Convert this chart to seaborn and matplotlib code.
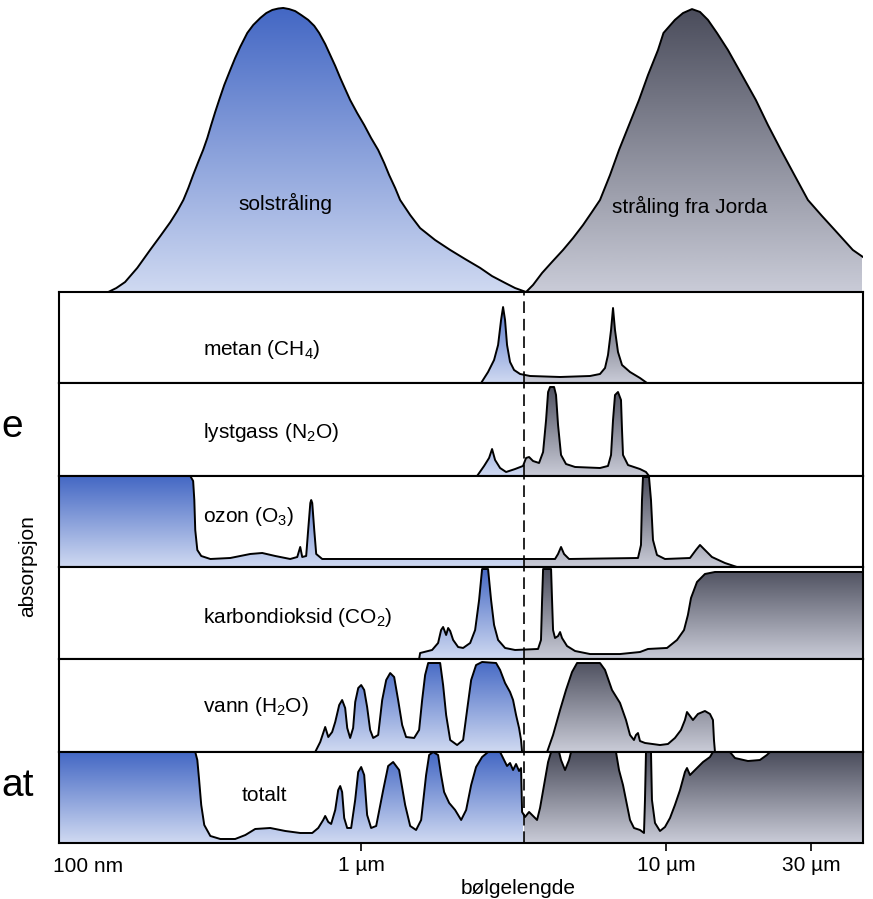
import numpy as np
import matplotlib
matplotlib.use("Agg")
import matplotlib.pyplot as plt
from matplotlib.colors import LinearSegmentedColormap
from matplotlib.ticker import NullLocator
import seaborn as sns

sns.set_theme(style="white")
plt.rcParams["font.family"] = ["Liberation Sans", "DejaVu Sans"]
plt.rcParams["mathtext.fontset"] = "custom"
plt.rcParams["mathtext.rm"] = "Liberation Sans"
plt.rcParams["mathtext.default"] = "regular"
plt.rcParams["axes.edgecolor"] = "black"
plt.rcParams["text.color"] = "black"
plt.rcParams["xtick.color"] = "black"

# ---- data (bølgelengde i µm, nivå / absorpsjon 0..1) ----
solar_wl = [0.148, 0.1573, 0.168, 0.1843, 0.203, 0.2193, 0.2365, 0.2493, 0.261, 0.2709,
            0.281, 0.2921, 0.303, 0.3127, 0.322, 0.332, 0.342, 0.3555, 0.372, 0.386,
            0.401, 0.423, 0.4424, 0.467, 0.4882, 0.511, 0.5344, 0.555, 0.5805, 0.6075,
            0.636, 0.670, 0.7014, 0.728, 0.762, 0.791, 0.822, 0.8535, 0.886, 0.920,
            0.9703, 1.023, 1.078, 1.137, 1.190, 1.235, 1.293, 1.342, 1.448, 1.561,
            1.748, 1.959, 2.193, 2.455, 2.688, 2.965, 3.198, 3.475]
solar_level = [0, 0.014, 0.035, 0.085, 0.148, 0.197, 0.246, 0.285, 0.324, 0.366,
               0.412, 0.458, 0.5, 0.542, 0.588, 0.634, 0.676, 0.729, 0.782, 0.824,
               0.863, 0.912, 0.940, 0.965, 0.982, 0.993, 0.998, 1.0, 0.996, 0.989,
               0.975, 0.958, 0.937, 0.912, 0.873, 0.835, 0.796, 0.754, 0.715, 0.676,
               0.630, 0.588, 0.542, 0.5, 0.454, 0.412, 0.366, 0.324, 0.271, 0.225,
               0.183, 0.148, 0.116, 0.085, 0.056, 0.032, 0.014, 0]

earth_wl = [3.475, 3.664, 3.922, 4.229, 4.595, 4.956, 5.345, 5.719, 6.075, 6.553,
            7.013, 7.563, 8.157, 8.730, 9.415, 9.813, 10.70, 11.37, 12.17, 12.93,
            13.73, 14.70, 15.97, 17.75, 19.72, 21.60, 23.83, 26.38, 29.22, 32.47,
            35.81, 41.02, 46.7]
earth_level = [0, 0.025, 0.067, 0.106, 0.148, 0.190, 0.236, 0.282, 0.324, 0.412,
               0.5, 0.588, 0.676, 0.764, 0.852, 0.912, 0.958, 0.982, 0.996, 0.986,
               0.958, 0.912, 0.852, 0.764, 0.676, 0.588, 0.5, 0.412, 0.324, 0.268,
               0.218, 0.148, 0.106]

ch4_wl = [2.474, 2.608, 2.729, 2.813, 2.877, 2.921, 2.965, 3.010, 3.079, 3.174,
          3.321, 3.581, 4.493, 5.635, 6.075, 6.310, 6.453, 6.603, 6.703, 6.804,
          6.959, 7.174, 7.621, 8.217, 8.664]
ch4_abs = [0, 0.121, 0.253, 0.418, 0.692, 0.835, 0.692, 0.418, 0.231, 0.143,
           0.099, 0.077, 0.066, 0.077, 0.099, 0.165, 0.308, 0.582, 0.824, 0.582,
           0.341, 0.198, 0.121, 0.055, 0]

n2o_wl = [2.400, 2.531, 2.628, 2.688, 2.750, 2.856, 2.988, 3.198, 3.396, 3.475,
          3.555, 3.664, 3.833, 3.952, 4.042, 4.104, 4.166, 4.294, 4.358, 4.425,
          4.526, 4.699, 5.031, 6.075, 6.453, 6.603, 6.703, 6.804, 6.959, 7.120,
          7.174, 7.228, 7.506, 8.217, 8.598, 8.797]
n2o_abs = [0, 0.108, 0.194, 0.290, 0.172, 0.086, 0.043, 0.075, 0.108, 0.194,
           0.204, 0.161, 0.140, 0.258, 0.602, 0.903, 0.957, 0.957, 0.871, 0.548,
           0.226, 0.129, 0.097, 0.086, 0.108, 0.226, 0.602, 0.871, 0.903, 0.817,
           0.495, 0.226, 0.118, 0.075, 0.043, 0]

o3_wl = [0.099, 0.275, 0.281, 0.2835, 0.2855, 0.290, 0.2987, 0.320, 0.372, 0.4326,
         0.4735, 0.5224, 0.585, 0.617, 0.631, 0.6406, 0.660, 0.670, 0.681, 0.6855,
         0.691, 0.7015, 0.712, 0.745, 1.342, 4.325, 4.425, 4.526, 4.630, 4.808,
         8.094, 8.279, 8.342, 8.405, 8.797, 8.930, 9.065, 9.343, 9.925, 11.99,
         12.54, 12.93, 13.32, 14.15, 15.61, 17.09]
o3_abs = [1.0, 1.0, 0.945, 0.736, 0.407, 0.187, 0.121, 0.088, 0.099, 0.143,
          0.154, 0.121, 0.088, 0.110, 0.220, 0.110, 0.121, 0.407, 0.703, 0.736,
          0.703, 0.407, 0.143, 0.088, 0.088, 0.088, 0.143, 0.220, 0.143, 0.088,
          0.099, 0.242, 0.736, 0.989, 0.989, 0.736, 0.297, 0.132, 0.088, 0.099,
          0.187, 0.242, 0.198, 0.110, 0.044, 0]

co2_wl = [1.549, 1.561, 1.709, 1.788, 1.829, 1.857, 1.900, 1.929, 1.959, 2.003,
          2.080, 2.160, 2.278, 2.365, 2.437, 2.493, 2.608, 2.668, 2.729, 2.813,
          2.965, 3.198, 3.804, 3.890, 3.922, 3.952, 4.198, 4.229, 4.261, 4.325,
          4.425, 4.493, 4.560, 4.736, 5.031, 5.635, 7.067, 8.217, 8.730, 10.08,
          10.87, 11.46, 11.80, 12.08, 12.64, 13.42, 14.48, 46.7]
co2_abs = [0, 0.065, 0.098, 0.174, 0.315, 0.348, 0.261, 0.337, 0.304, 0.207,
           0.130, 0.120, 0.174, 0.315, 0.641, 0.978, 0.978, 0.641, 0.370, 0.207,
           0.120, 0.098, 0.109, 0.207, 0.641, 0.978, 0.978, 0.641, 0.315, 0.228,
           0.25, 0.293, 0.228, 0.141, 0.087, 0.054, 0.054, 0.076, 0.109, 0.120,
           0.207, 0.315, 0.478, 0.663, 0.837, 0.924, 0.946, 0.946]

h2o_wl = [0.7066, 0.734, 0.762, 0.780, 0.803, 0.822, 0.847, 0.866, 0.886, 0.900,
          0.920, 0.941, 0.956, 0.978, 1.0, 1.023, 1.046, 1.070, 1.095, 1.137,
          1.172, 1.208, 1.245, 1.283, 1.322, 1.363, 1.404, 1.492, 1.549, 1.585,
          1.621, 1.659, 1.816, 1.857, 1.900, 1.959, 2.064, 2.160, 2.226, 2.295,
          2.382, 2.493, 2.771, 2.856, 2.965, 3.079, 3.150, 3.222, 3.296, 3.346,
          3.372,
          4.073, 4.261, 4.493, 4.699, 4.918, 5.108, 6.075, 6.310, 6.651, 7.067,
          7.393, 7.621, 7.852, 7.972, 8.094, 8.217, 8.533, 9.557, 10.15, 10.70,
          11.20, 11.54, 11.72, 11.99, 12.26, 12.73, 13.42, 13.94, 14.26, 14.37,
          14.48]
h2o_abs = [0, 0.108, 0.269, 0.161, 0.215, 0.323, 0.505, 0.559, 0.473, 0.258,
           0.151, 0.258, 0.538, 0.688, 0.720, 0.667, 0.484, 0.237, 0.151, 0.183,
           0.559, 0.774, 0.849, 0.806, 0.559, 0.290, 0.161, 0.151, 0.237, 0.559,
           0.828, 0.957, 0.957, 0.720, 0.398, 0.129, 0.075, 0.129, 0.452, 0.774,
           0.935, 0.968, 0.957, 0.882, 0.742, 0.645, 0.559, 0.398, 0.258, 0.129,
           0,
           0, 0.183, 0.452, 0.667, 0.860, 0.957, 0.957, 0.882, 0.667, 0.527,
           0.344, 0.183, 0.129, 0.183, 0.204, 0.118, 0.097, 0.075, 0.086, 0.151,
           0.237, 0.344, 0.430, 0.387, 0.344, 0.409, 0.441, 0.409, 0.344, 0.129,
           0]

total_wl = [0.099, 0.2855, 0.290, 0.294, 0.2987, 0.3056, 0.320, 0.345, 0.386, 0.417,
            0.449, 0.503, 0.5635, 0.631, 0.691, 0.723, 0.7506, 0.762, 0.780, 0.797,
            0.822, 0.8406, 0.8535, 0.866, 0.8796, 0.8996, 0.927, 0.9557, 0.9776, 1.0,
            1.023, 1.046, 1.078, 1.120, 1.181, 1.226, 1.273, 1.332, 1.394, 1.448,
            1.514, 1.573, 1.633, 1.671, 1.722, 1.788, 1.829, 1.871, 1.944, 2.033,
            2.128, 2.210, 2.295, 2.382, 2.493, 2.608, 2.856, 2.943, 3.010, 3.079,
            3.150, 3.222, 3.296, 3.346, 3.372, 3.448, 3.555, 3.664, 3.776, 3.862,
            3.981, 4.104, 4.198, 4.459, 4.526, 4.665, 4.808, 4.881, 6.855, 7.013,
            7.228, 7.449, 7.621, 7.852, 8.217, 8.470, 8.533, 8.598, 8.930, 8.995,
            9.204, 9.557, 9.925, 10.31, 10.70, 11.12, 11.54, 11.72, 11.99, 12.45,
            13.23, 13.94, 14.26, 16.21, 16.84, 18.58, 20.33, 21.43, 21.93, 46.7]
total_abs = [1.0, 1.0, 0.912, 0.692, 0.418, 0.198, 0.077, 0.044, 0.044, 0.088,
             0.154, 0.165, 0.132, 0.110, 0.110, 0.165, 0.253, 0.297, 0.231, 0.209,
             0.363, 0.582, 0.626, 0.560, 0.275, 0.165, 0.165, 0.473, 0.780, 0.835,
             0.747, 0.308, 0.165, 0.187, 0.582, 0.846, 0.890, 0.802, 0.418, 0.187,
             0.143, 0.253, 0.747, 0.967, 1.0, 0.967, 0.747, 0.560, 0.440, 0.363,
             0.253, 0.363, 0.637, 0.835, 0.945, 1.0, 1.0, 0.912, 0.846, 0.879,
             0.802, 0.868, 0.791, 0.824, 0.341, 0.286, 0.341, 0.297, 0.253, 0.385,
             0.637, 0.890, 1.0, 1.0, 0.912, 0.802, 0.912, 1.0, 1.0, 0.802,
             0.637, 0.418, 0.253, 0.165, 0.143, 0.110, 0.473, 1.0, 1.0, 0.473,
             0.220, 0.132, 0.176, 0.275, 0.418, 0.582, 0.780, 0.824, 0.747, 0.802,
             0.890, 0.945, 1.0, 1.0, 0.934, 0.901, 0.912, 0.967, 1.0, 1.0]

gas_labels = ["metan (CH$_4$)", "lystgass (N$_2$O)", "ozon (O$_3$)",
              "karbondioksid (CO$_2$)", "vann (H$_2$O)", "totalt"]
tick_values = [1, 10, 30]
tick_labels = ["1 µm", "10 µm", "30 µm"]

# ---- layout ----
W, H = 873, 899
X_MIN, X_MAX = 0.102, 44.3
BOUNDARY = 3.42

fig = plt.figure(figsize=(W / 100, H / 100), dpi=100)


def px_axes(left, top, right, bottom):
    return fig.add_axes([left / W, 1 - bottom / H, (right - left) / W, (bottom - top) / H])


blue = LinearSegmentedColormap.from_list("blaa", ["#cfd9f1", "#4367c4"])
grey = LinearSegmentedColormap.from_list("graa", ["#c9cbd7", "#4a4c5b"])
ramp = np.linspace(0, 1, 256).reshape(-1, 1)


def shade(ax, wl, val, parts, top=1.0):
    poly = ax.fill_between(wl, 0, val, color="none", lw=0)
    path = poly.get_paths()[0]
    for cmap, x0, x1 in parts:
        im = ax.imshow(ramp, cmap=cmap, origin="lower", aspect="auto",
                       extent=(x0, x1, 0, top), zorder=1, interpolation="bilinear")
        im.set_clip_path(path, transform=ax.transData)


def outline(ax, wl, val):
    sns.lineplot(x=wl, y=val, ax=ax, color="black", lw=1.4, sort=False,
                 estimator=None, zorder=3)


# stråling øverst
top_ax = px_axes(59, 0, 863, 292)
top_ax.set_xscale("log")
shade(top_ax, solar_wl, solar_level, [(blue, 0.1, 4.0)])
shade(top_ax, earth_wl, earth_level, [(grey, 3.4, 50)])
outline(top_ax, solar_wl, solar_level)
outline(top_ax, earth_wl, earth_level)
top_ax.set_xlim(X_MIN, X_MAX)
top_ax.set_ylim(0, 1.028)
top_ax.axis("off")
top_ax.text(0.565, 0.31, "solstråling", ha="center", va="center", fontsize=15)
top_ax.text(12.0, 0.30, "stråling fra Jorda", ha="center", va="center", fontsize=15)

# absorpsjonspaneler
series = [(ch4_wl, ch4_abs), (n2o_wl, n2o_abs), (o3_wl, o3_abs),
          (co2_wl, co2_abs), (h2o_wl, h2o_abs), (total_wl, total_abs)]
tops = [292, 383, 476, 567, 659, 752]
bottoms = [383, 476, 567, 659, 752, 843]
label_pos = [(0.179, 0.37, "left"), (0.179, 0.47, "left"), (0.179, 0.55, "left"),
             (0.179, 0.45, "left"), (0.179, 0.49, "left"), (0.255, 0.52, "center")]

for i, ((wl, val), label) in enumerate(zip(series, gas_labels)):
    ax = px_axes(59, tops[i], 863, bottoms[i])
    ax.set_xscale("log")
    shade(ax, wl, val, [(blue, 0.09, BOUNDARY), (grey, BOUNDARY, 50)])
    outline(ax, wl, val)
    ax.axvline(BOUNDARY, color="black", lw=1.2, ls=(0, (7, 3.5)), zorder=2)
    ax.set_xlim(X_MIN, X_MAX)
    ax.set_ylim(0, 1)
    ax.set_xlabel("")
    ax.set_ylabel("")
    ax.set_yticks([])
    ax.xaxis.set_minor_locator(NullLocator())
    for sp in ax.spines.values():
        sp.set_visible(True)
        sp.set_color("black")
        sp.set_linewidth(1.5)
        sp.set_zorder(4)
    lx, ly, ha = label_pos[i]
    ax.text(lx, ly, label, transform=ax.transAxes, ha=ha, va="center", fontsize=15)
    if i < 5:
        ax.set_xticks([])
    else:
        ax.set_xticks(tick_values, tick_labels)
        ax.xaxis.set_minor_locator(NullLocator())
        ax.tick_params(axis="x", which="major", direction="inout", length=11, width=1.2,
                       bottom=True, labelsize=15, pad=4, colors="black")

fig.text(53 / W, 1 - 866 / H, "100 nm", ha="left", va="center", fontsize=15)
fig.text(518 / W, 1 - 888 / H, "bølgelengde", ha="center", va="center", fontsize=15)
fig.text(28 / W, 1 - 566 / H, "absorpsjon", rotation=90, ha="center", va="center", fontsize=15)
# rester av tekst fra lysbildet ved venstre kant
fig.text(1 / W, 1 - 427 / H, "e", ha="left", va="center", fontsize=28)
fig.text(1 / W, 1 - 786 / H, "at", ha="left", va="center", fontsize=28)

fig.savefig("out.png", dpi=100)
